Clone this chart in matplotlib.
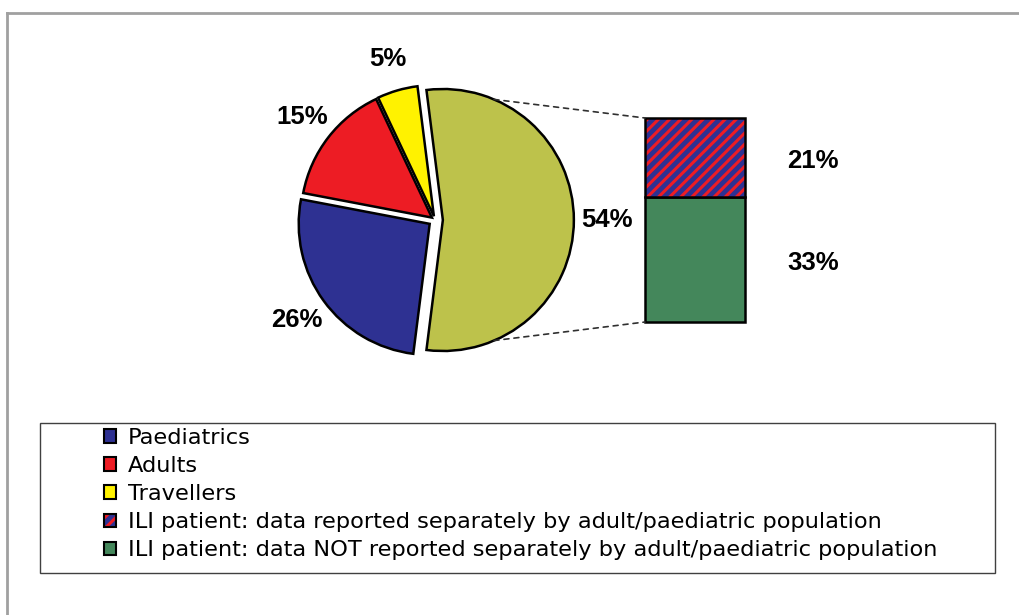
import numpy as np
import matplotlib.pyplot as plt
from matplotlib.patches import Patch, Rectangle, ConnectionPatch
from matplotlib.lines import Line2D

# data
pie_labels = ["ILI patient", "Travellers", "Adults", "Paediatrics"]
pie_shares = [54, 5, 15, 26]                       # percent
bar_labels = ["ILI not separated", "ILI separated"]
bar_shares = [33, 21]                              # percent, bottom to top
legend_labels = [
    "Paediatrics",
    "Adults",
    "Travellers",
    "ILI patient: data reported separately by adult/paediatric population",
    "ILI patient: data NOT reported separately by adult/paediatric population",
]

# colours
BLUE = "#2E3192"
RED = "#ED1C24"
YELLOW = "#FFF200"
OLIVE = "#BDC24B"
GREEN = "#44875B"
pie_colors = [OLIVE, YELLOW, RED, BLUE]
explode = [0.06, 0.03, 0.03, 0.05]

W, H = 1019, 615
plt.rcParams["hatch.linewidth"] = 2.2
label_font = dict(family="Liberation Sans", fontsize=18.5, fontweight="bold")


def px_box(left, top, right, bottom):
    # pixel box (from top-left) -> figure fraction rect
    return [left / W, 1 - bottom / H, (right - left) / W, (bottom - top) / H]


fig = plt.figure(figsize=(W / 100, H / 100), dpi=100)

# grey frame lines along top and left of the picture
fig.add_artist(Line2D([7 / W, 1], [1 - 13.3 / H, 1 - 13.3 / H], color="#A0A0A0", lw=2, transform=fig.transFigure))
fig.add_artist(Line2D([7 / W, 7 / W], [0, 1 - 13.3 / H], color="#A0A0A0", lw=2, transform=fig.transFigure))

# pie: radius 1 -> 131 px, centred at (435, 220)
R_PX, CX, CY = 131, 435, 220
ext = 1.3 * R_PX
ax_pie = fig.add_axes(px_box(CX - ext, CY - ext, CX + ext, CY + ext))
start = -pie_shares[0] / sum(pie_shares) * 360 / 2
wedges, texts = ax_pie.pie(
    pie_shares, colors=pie_colors, explode=explode, startangle=start,
    labels=[f"{v}%" for v in pie_shares], labeldistance=1.25,
    wedgeprops=dict(edgecolor="black", linewidth=1.8), textprops=label_font,
)
for t in texts:
    t.set_ha("center")
ax_pie.set_xlim(-1.3, 1.3)
ax_pie.set_ylim(-1.3, 1.3)
ax_pie.set_aspect("equal")
ax_pie.axis("off")

# stacked bar for the ILI slice
ax_bar = fig.add_axes(px_box(645, 118, 745, 322))
bottom = 0
for name, h in zip(bar_labels, bar_shares):
    if name == "ILI separated":
        ax_bar.bar(0.5, h, width=1, bottom=bottom, color=BLUE, linewidth=0, clip_on=False)
        ax_bar.bar(0.5, h, width=1, bottom=bottom, facecolor="none", edgecolor=RED,
                   hatch="///", linewidth=0, clip_on=False)
    else:
        ax_bar.bar(0.5, h, width=1, bottom=bottom, color=GREEN, linewidth=0, clip_on=False)
    ax_bar.bar(0.5, h, width=1, bottom=bottom, facecolor="none", edgecolor="black",
               linewidth=1.8, clip_on=False)
    # percentage to the right of each segment
    ax_bar.text(1.68, bottom + h / 2 - 1, f"{h}%", ha="center", va="center", **label_font)
    bottom += h
ax_bar.set_xlim(0, 1)
ax_bar.set_ylim(0, sum(bar_shares))
ax_bar.axis("off")

# dashed links from the ILI wedge to the bar
w = wedges[0]
link_angle = 67
for ang, yb in [(link_angle, sum(bar_shares)), (-link_angle, 0)]:
    x = w.center[0] + w.r * np.cos(np.radians(ang))
    y = w.center[1] + w.r * np.sin(np.radians(ang))
    con = ConnectionPatch(xyA=(x, y), coordsA=ax_pie.transData, xyB=(0, yb), coordsB=ax_bar.transData,
                          color="#303030", lw=1.2, linestyle=(0, (3, 3)))
    fig.add_artist(con)

# legend in its own box
fig.add_artist(Rectangle((40 / W, 1 - 573 / H), 955 / W, 150 / H, transform=fig.transFigure,
                         facecolor="none", edgecolor="#404040", lw=1))
hatched = (Patch(facecolor=BLUE, edgecolor="none"),
           Patch(facecolor="none", edgecolor=RED, hatch="///", lw=0),
           Patch(facecolor="none", edgecolor="black", lw=1.5))
handles = [Patch(facecolor=BLUE, edgecolor="black", lw=1.5),
           Patch(facecolor=RED, edgecolor="black", lw=1.5),
           Patch(facecolor=YELLOW, edgecolor="black", lw=1.5),
           hatched,
           Patch(facecolor=GREEN, edgecolor="black", lw=1.5)]
fig.legend(handles, legend_labels, loc="upper left", bbox_to_anchor=(104 / W, 1 - 428 / H),
           frameon=False, borderpad=0, borderaxespad=0, handlelength=0.55, handleheight=0.55,
           handletextpad=0.5, labelspacing=0.36, prop=dict(family="DejaVu Sans", size=16.2))

fig.savefig("out.png", dpi=100)
